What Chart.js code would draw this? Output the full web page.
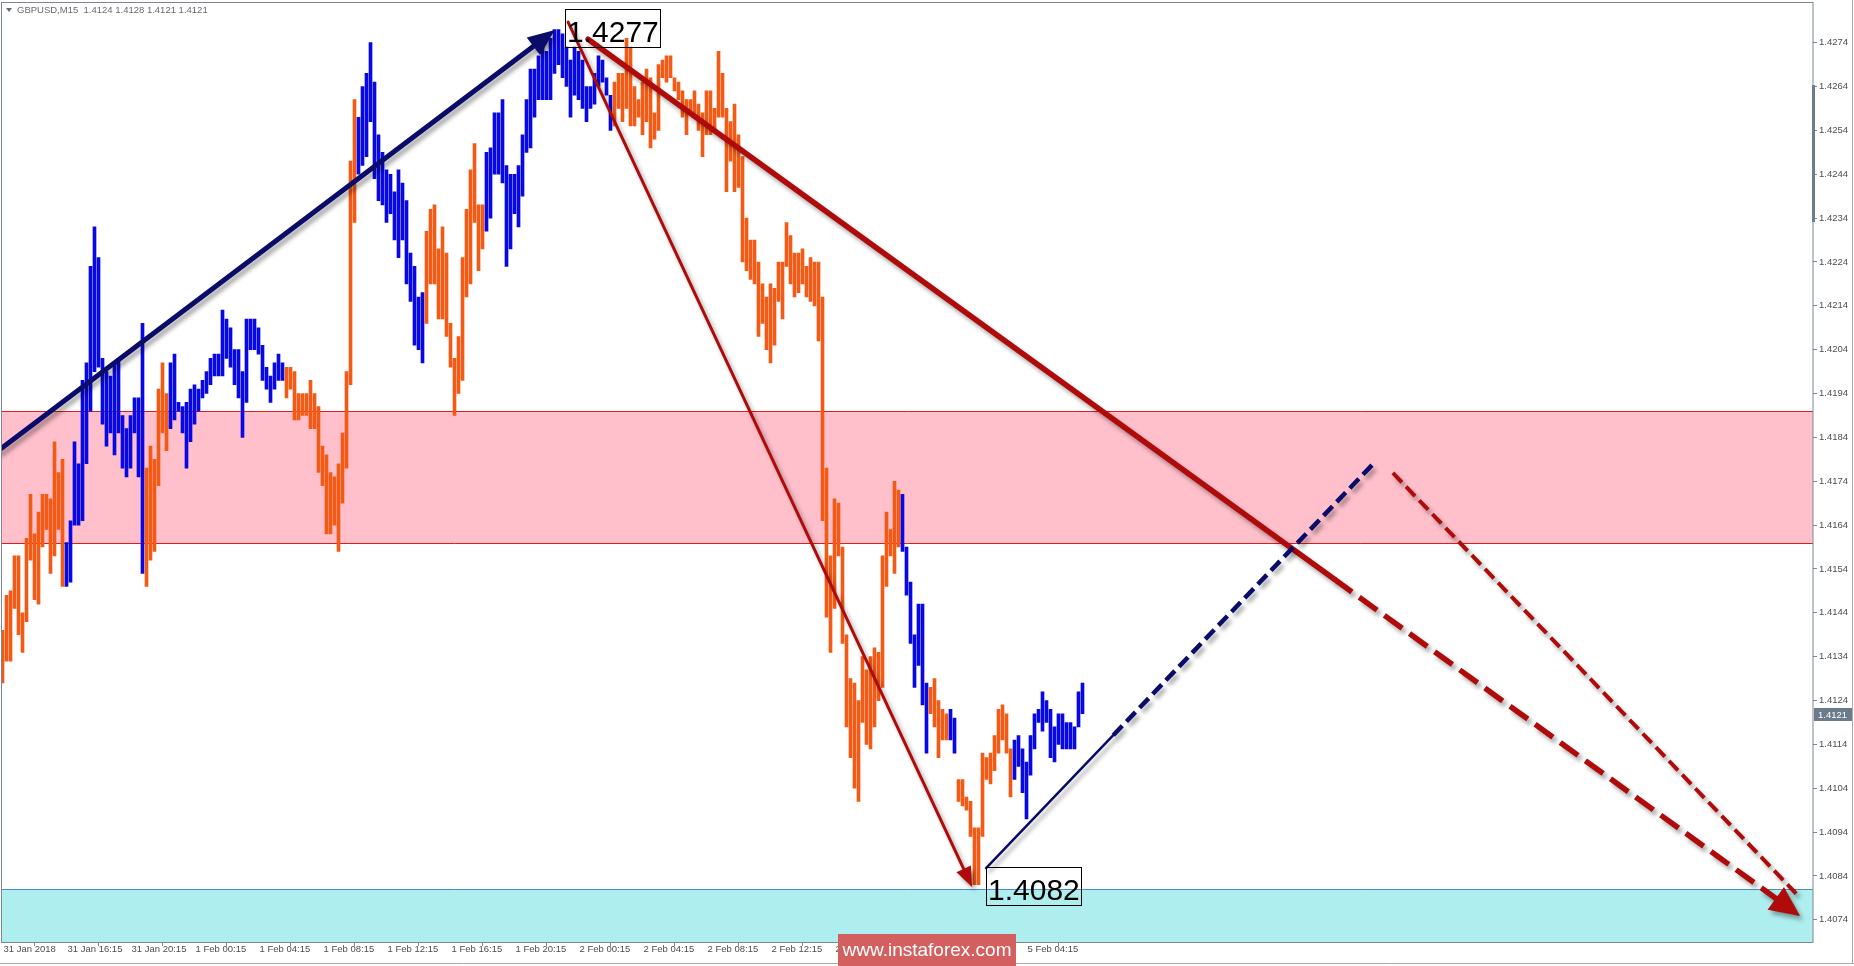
<!DOCTYPE html>
<html>
<head>
<meta charset="utf-8">
<title>GBPUSD M15</title>
<script src="https://cdn.jsdelivr.net/npm/chart.js@4.4.0/dist/chart.umd.min.js"></script>
<style>
  html, body { margin: 0; padding: 0; background: #fff; }
  #chart { display: block; }
</style>
</head>
<body>
<canvas id="chart" width="1854" height="966"></canvas>
<script>
// GBPUSD M15, 31 Jan 12:15 .. 5 Feb 05:30, one entry per bar
const highs = [
  1.4140, 1.4148, 1.4149, 1.4157, 1.4157, 1.4144, 1.4161, 1.4171, 1.4162, 1.4167,
  1.4171, 1.4171, 1.4170, 1.4183, 1.4176, 1.4179, 1.4160, 1.4165, 1.4183, 1.4178,
  1.4197, 1.4201, 1.4223, 1.4232, 1.4225, 1.4202, 1.4199, 1.4198, 1.4201, 1.4202,
  1.4189, 1.4186, 1.4189, 1.4193, 1.4193, 1.4210, 1.4177, 1.4182, 1.4179, 1.4195,
  1.4201, 1.4194, 1.4201, 1.4203, 1.4192, 1.4191, 1.4192, 1.4195, 1.4196, 1.4195,
  1.4197, 1.4199, 1.4202, 1.4203, 1.4203, 1.4213, 1.4211, 1.4209, 1.4204, 1.4204,
  1.4199, 1.4211, 1.4211, 1.4211, 1.4209, 1.4205, 1.4200, 1.4198, 1.4201, 1.4203,
  1.4201, 1.4200, 1.4200, 1.4199, 1.4194, 1.4194, 1.4194, 1.4197, 1.4194, 1.4191,
  1.4182, 1.4180, 1.4176, 1.4175, 1.4178, 1.4185, 1.4199, 1.4247, 1.4261, 1.4257,
  1.4264, 1.4267, 1.4274, 1.4265, 1.4253, 1.4249, 1.4245, 1.4244, 1.4240, 1.4245,
  1.4242, 1.4238, 1.4226, 1.4223, 1.4216, 1.4217, 1.4231, 1.4236, 1.4237, 1.4227,
  1.4232, 1.4226, 1.4210, 1.4202, 1.4207, 1.4225, 1.4236, 1.4245, 1.4251, 1.4237,
  1.4237, 1.4249, 1.4250, 1.4258, 1.4258, 1.4261, 1.4246, 1.4244, 1.4244, 1.4246,
  1.4253, 1.4261, 1.4268, 1.4268, 1.4271, 1.4274, 1.4272, 1.4275, 1.4277, 1.4277,
  1.4276, 1.4273, 1.4270, 1.4273, 1.4272, 1.4270, 1.4264, 1.4264, 1.4267, 1.4271,
  1.4270, 1.4266, 1.4262, 1.4265, 1.4267, 1.4267, 1.4275, 1.4273, 1.4264, 1.4261,
  1.4265, 1.4268, 1.4266, 1.4258, 1.4269, 1.4270, 1.4271, 1.4271, 1.4266, 1.4265,
  1.4263, 1.4261, 1.4261, 1.4263, 1.4260, 1.4258, 1.4263, 1.4263, 1.4259, 1.4272,
  1.4267, 1.4259, 1.4256, 1.4260, 1.4253, 1.4248, 1.4234, 1.4229, 1.4229, 1.4224,
  1.4219, 1.4216, 1.4219, 1.4218, 1.4224, 1.4224, 1.4233, 1.4230, 1.4226, 1.4226,
  1.4227, 1.4223, 1.4225, 1.4224, 1.4224, 1.4216, 1.4177, 1.4157, 1.4170, 1.4169,
  1.4159, 1.4139, 1.4129, 1.4128, 1.4124, 1.4134, 1.4131, 1.4134, 1.4136, 1.4135,
  1.4157, 1.4167, 1.4163, 1.4174, 1.4172, 1.4171, 1.4159, 1.4151, 1.4139, 1.4146,
  1.4146, 1.4128, 1.4127, 1.4129, 1.4124, 1.4122, 1.4121, 1.4122, 1.4120, 1.4106,
  1.4106, 1.4102, 1.4101, 1.4095, 1.4095, 1.4112, 1.4111, 1.4112, 1.4116, 1.4122,
  1.4123, 1.4121, 1.4113, 1.4115, 1.4116, 1.4113, 1.4110, 1.4116, 1.4121, 1.4122,
  1.4126, 1.4124, 1.4122, 1.4118, 1.4121, 1.4121, 1.4119, 1.4119, 1.4118, 1.4126,
  1.4128
];
const lows = [
  1.4128, 1.4133, 1.4133, 1.4145, 1.4139, 1.4135, 1.4142, 1.4156, 1.4147, 1.4146,
  1.4159, 1.4163, 1.4153, 1.4157, 1.4163, 1.4150, 1.4150, 1.4151, 1.4164, 1.4164,
  1.4165, 1.4178, 1.4190, 1.4199, 1.4200, 1.4187, 1.4182, 1.4185, 1.4180, 1.4185,
  1.4177, 1.4175, 1.4177, 1.4185, 1.4175, 1.4153, 1.4150, 1.4156, 1.4158, 1.4173,
  1.4185, 1.4181, 1.4186, 1.4188, 1.4190, 1.4185, 1.4177, 1.4183, 1.4187, 1.4190,
  1.4193, 1.4194, 1.4196, 1.4198, 1.4198, 1.4198, 1.4202, 1.4200, 1.4196, 1.4193,
  1.4184, 1.4192, 1.4204, 1.4204, 1.4203, 1.4197, 1.4195, 1.4192, 1.4195, 1.4197,
  1.4197, 1.4193, 1.4195, 1.4188, 1.4188, 1.4189, 1.4189, 1.4186, 1.4186, 1.4176,
  1.4173, 1.4162, 1.4162, 1.4164, 1.4158, 1.4169, 1.4177, 1.4196, 1.4233, 1.4244,
  1.4246, 1.4248, 1.4256, 1.4243, 1.4238, 1.4237, 1.4233, 1.4235, 1.4229, 1.4225,
  1.4229, 1.4219, 1.4215, 1.4205, 1.4204, 1.4201, 1.4210, 1.4219, 1.4219, 1.4211,
  1.4211, 1.4207, 1.4200, 1.4189, 1.4194, 1.4197, 1.4216, 1.4219, 1.4233, 1.4222,
  1.4227, 1.4231, 1.4234, 1.4244, 1.4244, 1.4242, 1.4223, 1.4227, 1.4235, 1.4232,
  1.4239, 1.4249, 1.4250, 1.4257, 1.4261, 1.4261, 1.4261, 1.4261, 1.4267, 1.4269,
  1.4266, 1.4264, 1.4257, 1.4262, 1.4261, 1.4259, 1.4256, 1.4259, 1.4260, 1.4264,
  1.4265, 1.4262, 1.4254, 1.4255, 1.4259, 1.4256, 1.4259, 1.4255, 1.4255, 1.4257,
  1.4253, 1.4256, 1.4250, 1.4252, 1.4254, 1.4266, 1.4265, 1.4266, 1.4263, 1.4261,
  1.4257, 1.4253, 1.4258, 1.4257, 1.4254, 1.4248, 1.4253, 1.4253, 1.4254, 1.4257,
  1.4257, 1.4240, 1.4247, 1.4240, 1.4241, 1.4224, 1.4222, 1.4220, 1.4219, 1.4207,
  1.4210, 1.4204, 1.4201, 1.4205, 1.4215, 1.4211, 1.4223, 1.4219, 1.4216, 1.4217,
  1.4219, 1.4216, 1.4215, 1.4214, 1.4206, 1.4165, 1.4143, 1.4135, 1.4145, 1.4157,
  1.4137, 1.4118, 1.4111, 1.4104, 1.4101, 1.4119, 1.4114, 1.4113, 1.4118, 1.4124,
  1.4127, 1.4150, 1.4157, 1.4153, 1.4159, 1.4158, 1.4148, 1.4137, 1.4127, 1.4132,
  1.4123, 1.4112, 1.4121, 1.4118, 1.4111, 1.4115, 1.4115, 1.4115, 1.4112, 1.4101,
  1.4100, 1.4099, 1.4093, 1.4082, 1.4082, 1.4093, 1.4106, 1.4105, 1.4108, 1.4112,
  1.4115, 1.4112, 1.4102, 1.4106, 1.4109, 1.4103, 1.4097, 1.4107, 1.4113, 1.4119,
  1.4117, 1.4119, 1.4111, 1.4110, 1.4114, 1.4113, 1.4113, 1.4113, 1.4113, 1.4118,
  1.4121
];
// wave colouring as runs of bars: d = falling wave, u = rising wave
const waveRuns = [
  ['d', 16], ['u', 20], ['d', 6], ['u', 29], ['d', 18], ['u', 17], ['d', 15],
  ['u', 32], ['d', 72], ['u', 7], ['d', 5], ['u', 2], ['d', 14], ['u', 18]
];
const lastOpen = 1.4124;
const lastClose = 1.4121;

// axes
const priceTicks = [
  1.4074, 1.4084, 1.4094, 1.4104, 1.4114, 1.4124, 1.4134, 1.4144, 1.4154, 1.4164, 1.4174,
  1.4184, 1.4194, 1.4204, 1.4214, 1.4224, 1.4234, 1.4244, 1.4254, 1.4264, 1.4274
];
const timeTicks = [0, 16, 32, 48, 64, 80, 96, 112, 128, 144, 160, 176, 192, 208, 224, 240, 256];
const timeLabels = [
  '31 Jan 2018', '31 Jan 16:15', '31 Jan 20:15', '1 Feb 00:15', '1 Feb 04:15', '1 Feb 08:15',
  '1 Feb 12:15', '1 Feb 16:15', '1 Feb 20:15', '2 Feb 00:15', '2 Feb 04:15', '2 Feb 08:15',
  '2 Feb 12:15', '2 Feb 16:15', '2 Feb 20:15', '5 Feb 00:15', '5 Feb 04:15'
];

// zones (price from, price to)
const resistZone = [1.4160, 1.4190];
const targetZone = [1.4060, 1.4081];

// wave mark-up as [bar index, price]
const impulseUp = [[-1, 1.41810], [138.1, 1.42769]];
const fallFast = [[141.4, 1.42787], [242.4, 1.40815]];
const fallMain = [[146.4, 1.42748], [332.9, 1.41517], [449.4, 1.40749]];
const reboundUp = [[245.9, 1.40858], [277.7, 1.41161], [342.9, 1.41782]];
const fallAlt = [[347.6, 1.41759], [448.4, 1.40800]];
const highLabel = { text: '1.4277', at: [140.6, 1.42816] };
const lowLabel = { text: '1.4082', at: [245.9, 1.40861] };

const ORANGE = '#f35a15';
const BLUE = '#0808e4';
const NAVY = '#0b0b6a';
const DARKRED = '#b00b0b';
const FRAME = '#7b8794';
const AXISTEXT = '#4d4d4d';
const FONT = '"Liberation Sans", Arial, sans-serif';

let barColors = [];
waveRuns.forEach(function (run) {
  for (let k = 0; k < run[1]; k++) {
    barColors.push(run[0] === 'u' ? BLUE : ORANGE);
  }
});

let bars = highs.map(function (h, i) {
  return { x: i, y: [lows[i], h] };
});

function toPx(chart, p) {
  return [chart.scales.x.getPixelForValue(p[0]), chart.scales.y.getPixelForValue(p[1])];
}

function shadow(ctx, on) {
  ctx.shadowColor = on ? 'rgba(0,0,0,0.35)' : 'transparent';
  ctx.shadowBlur = on ? 4 : 0;
  ctx.shadowOffsetX = on ? 3 : 0;
  ctx.shadowOffsetY = on ? 4 : 0;
}

function segment(ctx, a, b, width, color, dash) {
  ctx.beginPath();
  ctx.setLineDash(dash || []);
  ctx.lineWidth = width;
  ctx.strokeStyle = color;
  ctx.lineCap = dash ? 'butt' : 'round';
  ctx.moveTo(a[0], a[1]);
  ctx.lineTo(b[0], b[1]);
  ctx.stroke();
  ctx.setLineDash([]);
}

// point along a->b, pulled back from b by len pixels
function pullBack(a, b, len) {
  let dx = b[0] - a[0], dy = b[1] - a[1];
  let d = Math.hypot(dx, dy);
  return [b[0] - dx / d * len, b[1] - dy / d * len];
}

function arrowHead(ctx, a, tip, len, half, color) {
  let dx = tip[0] - a[0], dy = tip[1] - a[1];
  let d = Math.hypot(dx, dy), ux = dx / d, uy = dy / d;
  let bx = tip[0] - ux * len, by = tip[1] - uy * len;
  ctx.beginPath();
  ctx.moveTo(tip[0], tip[1]);
  ctx.lineTo(bx - uy * half, by + ux * half);
  ctx.lineTo(bx + uy * half, by - ux * half);
  ctx.closePath();
  ctx.fillStyle = color;
  ctx.fill();
}

function priceBox(ctx, chart, label) {
  let p = toPx(chart, label.at);
  let x = Math.round(p[0]) + 0.5, y = Math.round(p[1]) + 0.5;
  ctx.font = '30px ' + FONT;
  let w = Math.ceil(ctx.measureText(label.text).width) + 3;
  ctx.lineWidth = 1;
  ctx.strokeStyle = '#000';
  ctx.strokeRect(x, y, w, 38);
  ctx.fillStyle = '#000';
  ctx.textBaseline = 'alphabetic';
  ctx.textAlign = 'left';
  ctx.fillText(label.text, x + 1.5, y + 32);
}

const zonesPlugin = {
  id: 'zones',
  beforeDatasetsDraw(chart) {
    let ctx = chart.ctx, area = chart.chartArea, y = chart.scales.y;
    ctx.save();
    ctx.beginPath();
    ctx.rect(area.left, area.top, area.right - area.left, area.bottom - area.top);
    ctx.clip();

    let top = Math.round(y.getPixelForValue(resistZone[1]));
    let bot = Math.round(y.getPixelForValue(resistZone[0]));
    ctx.fillStyle = '#ffc0cb';
    ctx.fillRect(area.left, top, area.right - area.left, bot - top);
    ctx.strokeStyle = '#e01c1c';
    ctx.lineWidth = 1;
    ctx.beginPath();
    ctx.moveTo(area.left, top + 0.5); ctx.lineTo(area.right, top + 0.5);
    ctx.moveTo(area.left, bot + 0.5); ctx.lineTo(area.right, bot + 0.5);
    ctx.stroke();

    let ctop = Math.round(y.getPixelForValue(targetZone[1]));
    ctx.fillStyle = '#afeeee';
    ctx.fillRect(area.left, ctop, area.right - area.left, area.bottom - ctop);
    ctx.strokeStyle = '#4a8fc4';
    ctx.beginPath();
    ctx.moveTo(area.left, ctop + 0.5); ctx.lineTo(area.right, ctop + 0.5);
    ctx.stroke();
    ctx.restore();
  }
};

const wavesPlugin = {
  id: 'waves',
  afterDatasetsDraw(chart) {
    let ctx = chart.ctx, area = chart.chartArea;
    ctx.save();
    ctx.beginPath();
    ctx.rect(area.left, area.top, area.right - area.left, area.bottom - area.top);
    ctx.clip();
    shadow(ctx, true);

    // previous impulse up
    let a = toPx(chart, impulseUp[0]), b = toPx(chart, impulseUp[1]);
    segment(ctx, a, pullBack(a, b, 14), 5, NAVY);
    arrowHead(ctx, a, b, 27, 11, NAVY);

    // sharp fall to the low
    a = toPx(chart, fallFast[0]); b = toPx(chart, fallFast[1]);
    segment(ctx, a, pullBack(a, b, 10), 3, DARKRED);
    arrowHead(ctx, a, b, 20, 8, DARKRED);

    // main bearish wave and its forecast part
    a = toPx(chart, fallMain[0]); b = toPx(chart, fallMain[1]);
    let c = toPx(chart, fallMain[2]);
    segment(ctx, a, b, 5.5, DARKRED);
    segment(ctx, b, pullBack(b, c, 18), 5.5, DARKRED, [22, 9]);

    // alternative fall from the top of the zone
    let d = toPx(chart, fallAlt[0]), e = toPx(chart, fallAlt[1]);
    segment(ctx, d, e, 4, DARKRED, [13, 6]);
    arrowHead(ctx, b, c, 30, 14, DARKRED);

    // correction up, built and expected
    a = toPx(chart, reboundUp[0]); b = toPx(chart, reboundUp[1]); c = toPx(chart, reboundUp[2]);
    segment(ctx, a, b, 2.5, NAVY);
    segment(ctx, b, c, 4.5, NAVY, [13, 6]);

    shadow(ctx, false);
    priceBox(ctx, chart, highLabel);
    priceBox(ctx, chart, lowLabel);
    ctx.restore();
  }
};

const framePlugin = {
  id: 'frame',
  afterDraw(chart) {
    let ctx = chart.ctx, area = chart.chartArea;
    ctx.save();
    ctx.strokeStyle = FRAME;
    ctx.lineWidth = 1;
    ctx.strokeRect(Math.floor(area.left) + 0.5, area.top + 0.5,
      Math.round(area.right - area.left) - 0.5, area.bottom - area.top);

    // scale slider on the price axis
    ctx.fillStyle = '#6d7d8e';
    ctx.fillRect(area.right - 1, 85, 3, 137);

    // window edges
    ctx.strokeStyle = '#a9a9a9';
    ctx.beginPath();
    ctx.moveTo(0, 963.5); ctx.lineTo(1854, 963.5);
    ctx.moveTo(1852.5, 0); ctx.lineTo(1852.5, 963);
    ctx.stroke();

    // symbol header
    ctx.fillStyle = '#6a6a6a';
    ctx.beginPath();
    ctx.moveTo(6, 8); ctx.lineTo(12, 8); ctx.lineTo(9, 12); ctx.closePath();
    ctx.fill();
    ctx.font = '9.5px ' + FONT;
    ctx.textAlign = 'left';
    ctx.textBaseline = 'alphabetic';
    let last = highs.length - 1;
    ctx.fillText('GBPUSD,M15  ' + [lastOpen, highs[last], lows[last], lastClose]
      .map(function (v) { return v.toFixed(4); }).join(' '), 17, 13);

    // current price tag
    let py = Math.round(chart.scales.y.getPixelForValue(lastClose));
    ctx.fillStyle = '#6b7b8c';
    ctx.fillRect(area.right + 1, py - 6, 38, 13);
    ctx.fillStyle = '#fff';
    ctx.font = '9.5px ' + FONT;
    ctx.textBaseline = 'middle';
    ctx.fillText(lastClose.toFixed(4), area.right + 5, py + 1);

    // watermark
    ctx.fillStyle = '#d45f5f';
    ctx.fillRect(838, 934, 178, 32);
    ctx.fillStyle = '#fff';
    ctx.font = '19px ' + FONT;
    ctx.textAlign = 'center';
    ctx.fillText('www.instaforex.com', 927, 951);
    ctx.restore();
  }
};

let ctx = document.getElementById('chart').getContext('2d');
let chart = new Chart(ctx, {
  type: 'bar',
  data: {
    datasets: [{
      data: bars,
      backgroundColor: barColors,
      borderWidth: 0,
      barThickness: 3
    }]
  },
  options: {
    responsive: false,
    animation: false,
    devicePixelRatio: 1,
    events: [],
    layout: { padding: { left: 1.5, top: 2, right: 0, bottom: 0 } },
    plugins: {
      legend: { display: false },
      tooltip: { enabled: false }
    },
    scales: {
      x: {
        type: 'linear',
        min: -0.25,
        max: 452.625,
        offset: false,
        afterBuildTicks: function (s) { s.ticks = timeTicks.map(function (v) { return { value: v }; }); },
        afterFit: function (s) { s.height = 24; s.paddingLeft = 0; s.paddingRight = 0; },
        grid: { drawOnChartArea: false, drawTicks: true, tickLength: 4, color: FRAME },
        border: { display: false },
        ticks: {
          autoSkip: false,
          maxRotation: 0,
          align: 'start',
          labelOffset: 1,
          padding: -2,
          color: AXISTEXT,
          font: { family: FONT, size: 9.5 },
          callback: function (v) {
            let k = timeTicks.indexOf(v);
            return k < 0 ? '' : timeLabels[k];
          }
        }
      },
      y: {
        position: 'right',
        min: 1.406895,
        max: 1.428327,
        afterBuildTicks: function (s) { s.ticks = priceTicks.map(function (v) { return { value: v }; }); },
        afterFit: function (s) { s.width = 41; s.paddingTop = 0; s.paddingBottom = 0; },
        grid: { drawOnChartArea: false, drawTicks: true, tickLength: 4, color: FRAME },
        border: { display: false },
        ticks: {
          padding: 2,
          color: AXISTEXT,
          font: { family: FONT, size: 9.5 },
          callback: function (v) { return Number(v).toFixed(4); }
        }
      }
    }
  },
  plugins: [zonesPlugin, wavesPlugin, framePlugin]
});
</script>
</body>
</html>
